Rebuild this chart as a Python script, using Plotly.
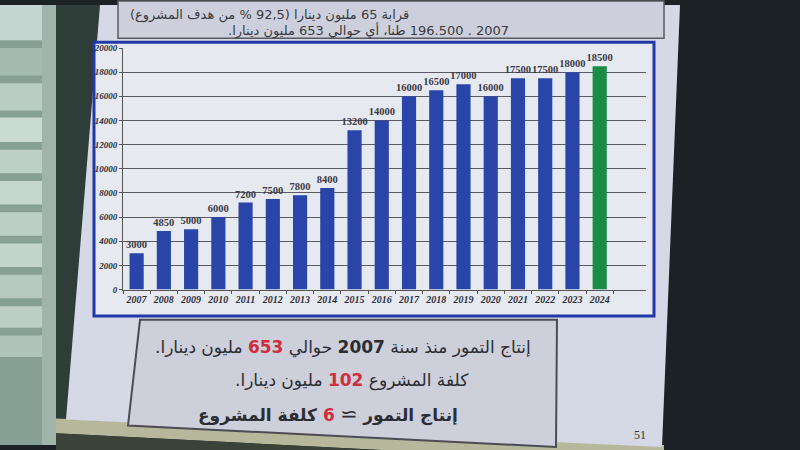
import plotly.graph_objects as go

# ---------------- data ----------------
years = ["2007", "2008", "2009", "2010", "2011", "2012", "2013", "2014", "2015",
         "2016", "2017", "2018", "2019", "2020", "2021", "2022", "2023", "2024"]
production = [3000, 4850, 5000, 6000, 7200, 7500, 7800, 8400, 13200,
              14000, 16000, 16500, 17000, 16000, 17500, 17500, 18000, 18500]
highlight_year = "2024"
y_ticks = [0, 2000, 4000, 6000, 8000, 10000, 12000, 14000, 16000, 18000, 20000]

top_line_1 = "\u200fقرابة 65 مليون دينارا (92,5 % من هدف المشروع)\u200f"
top_line_2 = "\u200f2007 . 196.500 طنا، أي حوالي 653 مليون دينارا.\u200f"

RED = "#cf2e3a"
box_line_1 = ("\u200fإنتاج التمور منذ سنة <b>2007</b> حوالي "
              f"<b><span style='color:{RED}'>653</span></b> مليون دينارا.\u200f")
box_line_2 = (f"\u200fكلفة المشروع <b><span style='color:{RED}'>102</span></b> مليون دينارا.\u200f")
box_line_3 = (f"\u200f<b>إنتاج التمور</b> <span style='font-size:21px'>≃</span> "
              f"<b><span style='color:{RED}'>6</span> كلفة المشروع</b>\u200f")
page_number = "51"

# ---------------- helpers ----------------
W, H = 800, 450


def px(x):
    return x / W


def py(y):
    return 1 - y / H


BLUE = "#2a45a8"
GREEN = "#1b8c45"
bar_colors = [GREEN if yr == highlight_year else BLUE for yr in years]

fig = go.Figure()
fig.add_trace(go.Bar(
    x=years,
    y=production,
    marker=dict(color=bar_colors, line=dict(width=0)),
    text=[f"<b>{v}</b>" for v in production],
    textposition="outside",
    constraintext="none",
    textfont=dict(family="Liberation Serif", size=10.5, color="#3a3a44"),
    cliponaxis=False,
    width=0.52,
))

shapes = []


def rect(x0, y0, x1, y1, fill, line_color=None, lw=0, layer="below"):
    shapes.append(dict(type="rect", xref="paper", yref="paper",
                       x0=px(x0), x1=px(x1), y0=py(y1), y1=py(y0),
                       fillcolor=fill, layer=layer,
                       line=dict(color=line_color or fill, width=lw)))


def poly(points, fill, line_color=None, lw=0, layer="below"):
    d = "M " + " L ".join(f"{px(x)},{py(y)}" for x, y in points) + " Z"
    shapes.append(dict(type="path", xref="paper", yref="paper", path=d,
                       fillcolor=fill, layer=layer,
                       line=dict(color=line_color or "rgba(0,0,0,0)", width=lw)))


# left window with blinds
rect(0, 0, 60, 450, "#86a096")
for (a, b, c) in [(0, 36, "#c4d6cf"), (44, 72, "#a3bab1"), (80, 108, "#b9cdc5"),
                  (115, 140, "#c9dad3"), (148, 172, "#bdd0c8"), (180, 204, "#c6d7d0"),
                  (212, 236, "#bccfc7"), (244, 268, "#c3d4cd"), (276, 300, "#b6c9c1"),
                  (308, 330, "#bccec6"), (338, 360, "#b0c3bb")]:
    rect(0, a, 48, b, c)
rect(42, 0, 56, 450, "#9fb4ab")
# wall between window and screen
poly([(56, 0), (130, 0), (70, 450), (56, 450)], "#2f3d38")
# right dark area
rect(662, 0, 800, 450, "#1c2125")
# bottom frame strip (below the screen, slanted)
poly([(56, 423), (664, 450), (664, 470), (56, 438)], "#b7b79c")
poly([(56, 438), (664, 470), (664, 480), (56, 480)], "#3b4238")
# slide
poly([(100, 0), (680, 0), (662, 452), (66, 424)], "#d5d8e5")
# top text box
rect(118, -4, 664, 34, "#cdd0dc", "#5a5a60", 1.5)
# chart frame
rect(94, 38, 654, 318, "#e7e9f1", "#2338a8", 3)
# bottom text box
poly([(140, 322), (557, 322), (556, 452), (128, 430)], "#cdcfdb", "#4c4c52", 2)

annotations = [
    dict(text=top_line_1, x=px(128), y=py(10), xanchor="left", yanchor="middle",
         font=dict(family="DejaVu Sans", size=13, color="#3a3a40")),
    dict(text=top_line_2, x=px(226), y=py(26), xanchor="left", yanchor="middle",
         font=dict(family="DejaVu Sans", size=13, color="#3a3a40")),
    dict(text=box_line_1, x=px(343), y=py(350), xanchor="center", yanchor="middle",
         font=dict(family="DejaVu Sans", size=17, color="#2c2c34")),
    dict(text=box_line_2, x=px(352), y=py(384), xanchor="center", yanchor="middle",
         font=dict(family="DejaVu Sans", size=17, color="#2c2c34")),
    dict(text=box_line_3, x=px(328), y=py(418), xanchor="center", yanchor="middle",
         font=dict(family="DejaVu Sans", size=17, color="#2c2c34")),
    dict(text=page_number, x=px(640), y=py(440), xanchor="center", yanchor="middle",
         font=dict(family="Liberation Serif", size=12, color="#333")),
]
for a in annotations:
    a.update(xref="paper", yref="paper", showarrow=False)

fig.update_layout(
    width=W, height=H,
    margin=dict(l=0, r=0, t=0, b=0),
    paper_bgcolor="#1c2125",
    plot_bgcolor="rgba(0,0,0,0)",
    showlegend=False,
    shapes=shapes,
    annotations=annotations,
    xaxis=dict(
        domain=[px(123), px(646)],
        type="category",
        range=[-0.5, 18.7],
        showgrid=False,
        showline=True, linecolor="#555", linewidth=1,
        ticks="outside", tickson="boundaries", ticklen=3, tickcolor="#555",
        tickangle=0,
        tickfont=dict(family="Liberation Serif", size=10, color="#2e2e38",
                      weight="bold", style="italic"),
        fixedrange=True,
    ),
    yaxis=dict(
        domain=[py(291), py(44)],
        range=[0, 20000],
        tickvals=y_ticks,
        ticktext=[str(v) for v in y_ticks],
        showgrid=True, gridcolor="#5a5a64", gridwidth=1,
        showline=True, linecolor="#555", linewidth=1,
        ticks="outside", ticklen=3, tickcolor="#555",
        tickfont=dict(family="Liberation Serif", size=9, color="#2e2e38",
                      weight="bold", style="italic"),
        zeroline=False,
        fixedrange=True,
    ),
)

fig.write_html("out.html", config={"displayModeBar": False},
               post_script="document.body.style.margin='0';")
